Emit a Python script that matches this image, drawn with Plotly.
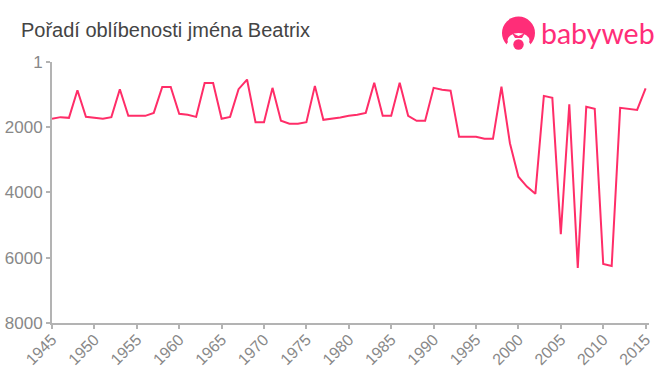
import plotly.graph_objects as go

years = list(range(1945, 2016))
ranks = [1743, 1691, 1712, 865, 1682, 1722, 1743, 1691, 835, 1651,
         1651, 1651, 1560, 765, 765, 1590, 1620, 1682, 642, 642,
         1743, 1682, 835, 539, 1844, 1844, 794, 1803, 1895, 1895,
         1844, 733, 1773, 1743, 1700, 1650, 1620, 1560, 640, 1651,
         1651, 640, 1651, 1803, 1803, 794, 850, 880, 2293, 2293,
         2293, 2355, 2355, 760, 2490, 3516, 3820, 4040, 1040, 1100,
         5280, 1300, 6310, 1376, 1437, 6190, 6250, 1407, 1440, 1468,
         813]
x_ticks = list(range(1945, 2016, 5))
y_ticks = [1, 2000, 4000, 6000, 8000]
y_labels = ["1", "2000", "4000", "6000", "8000"]
title_text = "Pořadí oblíbenosti jména Beatrix"
logo_text = "babyweb"

W, H = 660, 375
L, R, T, B = 52, 649, 62, 323.5
PINK = "#ff2d78"


def px(x):
    return (x - L) / (R - L)


def py(y):
    return (B - y) / (B - T)


def circle(cx, cy, rx, ry, color):
    return dict(type="circle", xref="paper", yref="paper", layer="above",
                x0=px(cx - rx), x1=px(cx + rx), y0=py(cy + ry), y1=py(cy - ry),
                fillcolor=color, line_width=0)


def poly(points, color):
    d = "M " + " L ".join(f"{px(a):.5f} {py(b):.5f}" for a, b in points) + " Z"
    return dict(type="path", xref="paper", yref="paper", layer="above", path=d,
                fillcolor=color, line_width=0)


logo_shapes = [
    circle(518.5, 33, 16.5, 16.5, PINK),
    poly([(508, 42), (529, 42), (536, 52), (501, 52)], "#ffffff"),
    circle(518.5, 40.5, 11, 7.5, "#ffffff"),
    poly([(512, 33), (518.5, 36), (525, 33), (522, 38), (515, 38)], PINK),
    circle(518.5, 44.5, 5.2, 5.2, PINK),
]

fig = go.Figure(go.Scatter(
    x=years, y=ranks, mode="lines",
    line=dict(color="#ff2d68", width=2),
    hoverinfo="skip",
))

axis_common = dict(
    showgrid=False, zeroline=False, showline=True, linecolor="#b3b3b3", linewidth=2,
    ticks="outside", tickcolor="#b3b3b3", tickwidth=1.5, ticklen=4, automargin=False,
)
fig.update_xaxes(
    range=[1945, 2015.4], tickmode="array", tickvals=x_ticks,
    ticktext=[str(v) for v in x_ticks], tickangle=-45, ticklabelstandoff=-5,
    tickfont=dict(family="Liberation Sans", size=16, color="#888888"),
    **axis_common,
)
fig.update_yaxes(
    range=[8000, 1], tickmode="array", tickvals=y_ticks, ticktext=y_labels,
    tickfont=dict(family="Liberation Sans", size=17, color="#888888"),
    **axis_common,
)
fig.update_layout(
    width=W, height=H, showlegend=False,
    paper_bgcolor="#ffffff", plot_bgcolor="#ffffff",
    margin=dict(l=L, r=W - R, t=T, b=H - B, pad=0),
    shapes=logo_shapes,
    annotations=[
        dict(text=title_text, xref="paper", yref="paper", x=px(20), y=py(30),
             xanchor="left", yanchor="middle", showarrow=False, xshift=-1,
             font=dict(family="Liberation Sans", size=20, color="#444444")),
        dict(text=logo_text, xref="paper", yref="paper", x=px(539), y=py(33),
             xanchor="left", yanchor="middle", showarrow=False,
             font=dict(family="Lato", size=28.5, color=PINK)),
    ],
)
fig.write_html("out.html", config=dict(displayModeBar=False),
               post_script="document.body.style.margin='0';")
